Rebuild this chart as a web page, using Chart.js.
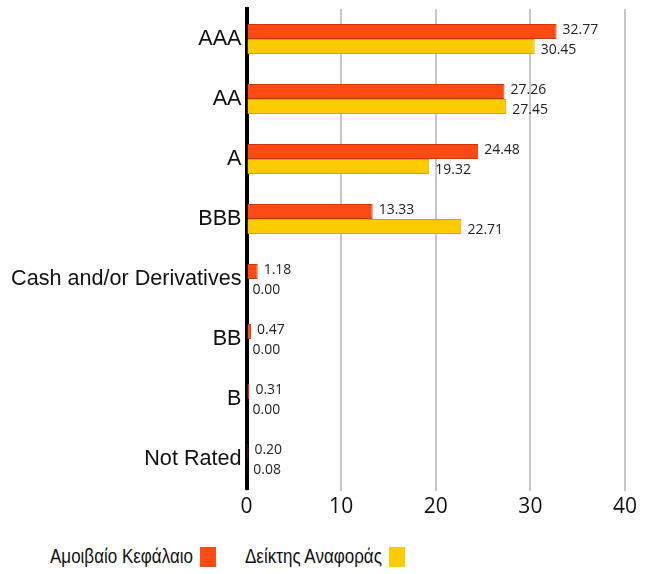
<!DOCTYPE html>
<html>
<head>
<meta charset="utf-8">
<script src="https://cdn.jsdelivr.net/npm/chart.js@4"></script>
<style>
  html, body { margin: 0; padding: 0; background: #fff; }
  #wrap { position: relative; width: 654px; height: 574px; }
  #c { position: absolute; left: 0; top: 0; }
  #legend { position: absolute; top: 543px; left: 0; width: 654px; height: 26px;
    font-family: "Liberation Sans", Arial, sans-serif; font-size: 20px; color: #111; }
  .txt { position: absolute; top: 0; height: 26px; line-height: 26px; white-space: nowrap;
    transform: scaleX(0.85); transform-origin: left center; }
  .box { position: absolute; top: 4px; width: 16px; height: 20px; }
</style>
</head>
<body>
<div id="wrap">
  <canvas id="c" width="654" height="530"></canvas>
  <div id="legend"></div>
</div>
<script>
const categories = ["AAA", "AA", "A", "BBB", "Cash and/or Derivatives", "BB", "B", "Not Rated"];
const seriesNames = ["Αμοιβαίο Κεφάλαιο", "Δείκτης Αναφοράς"];
const fundValues = [32.77, 27.26, 24.48, 13.33, 1.18, 0.47, 0.31, 0.20];
const indexValues = [30.45, 27.45, 19.32, 22.71, 0.00, 0.00, 0.00, 0.08];
const xTicks = [0, 10, 20, 30, 40];

const fills = ["#FF4A14", "#FFCC00"];
const borders = ["#C8380A", "#D4A500"];

const labelPlugin = {
  id: "valueLabels",
  afterDatasetsDraw(chart) {
    const ctx = chart.ctx;
    ctx.save();
    ctx.font = "14px 'Open Sans', sans-serif";
    ctx.fillStyle = "#222";
    ctx.textAlign = "left";
    ctx.textBaseline = "middle";
    chart.data.datasets.forEach((ds, di) => {
      const meta = chart.getDatasetMeta(di);
      const dy = di === 0 ? -1.5 : 4;
      meta.data.forEach((el, i) => {
        ctx.fillText(ds.data[i].toFixed(2), el.x + 6, el.y + dy);
      });
    });
    ctx.restore();
  }
};

new Chart(document.getElementById("c"), {
  type: "bar",
  data: {
    labels: categories,
    datasets: [
      { label: seriesNames[0], data: fundValues, backgroundColor: fills[0], borderColor: borders[0], borderWidth: 1,
        categoryPercentage: 0.5, barPercentage: 1.0 },
      { label: seriesNames[1], data: indexValues, backgroundColor: fills[1], borderColor: borders[1], borderWidth: 1,
        categoryPercentage: 0.5, barPercentage: 1.0 }
    ]
  },
  options: {
    indexAxis: "y",
    responsive: false,
    animation: false,
    devicePixelRatio: 1,
    layout: { padding: { top: 9, right: 29, left: 0, bottom: 0 } },
    plugins: { legend: { display: false }, tooltip: { enabled: false } },
    scales: {
      x: {
        min: 0, max: 40,
        afterBuildTicks: s => { s.ticks = xTicks.map(v => ({ value: v })); },
        afterFit: s => { s.height = 530 - 489; },
        grid: { color: "#c8c8c8", lineWidth: 2, tickLength: 2, drawTicks: true },
        border: { display: false },
        ticks: { padding: 3, color: "#111", font: { family: "'Open Sans', sans-serif", size: 21 } }
      },
      y: {
        afterFit: s => { s.width = 246.5; s.paddingTop = 0; s.paddingBottom = 0; },
        grid: { display: false, drawTicks: false },
        border: { display: true, color: "#000", width: 4 },
        ticks: { padding: 5, color: "#111", font: { family: "'Liberation Sans', Arial, sans-serif", size: 21.6 } }
      }
    }
  },
  plugins: [labelPlugin]
});

const legend = document.getElementById("legend");
const textX = [50, 245];
const boxX = [200, 389];
seriesNames.forEach((n, i) => {
  const t = document.createElement("span");
  t.className = "txt";
  t.style.left = textX[i] + "px";
  t.textContent = n;
  const b = document.createElement("span");
  b.className = "box";
  b.style.left = boxX[i] + "px";
  b.style.background = fills[i];
  legend.appendChild(t);
  legend.appendChild(b);
});
</script>
</body>
</html>
